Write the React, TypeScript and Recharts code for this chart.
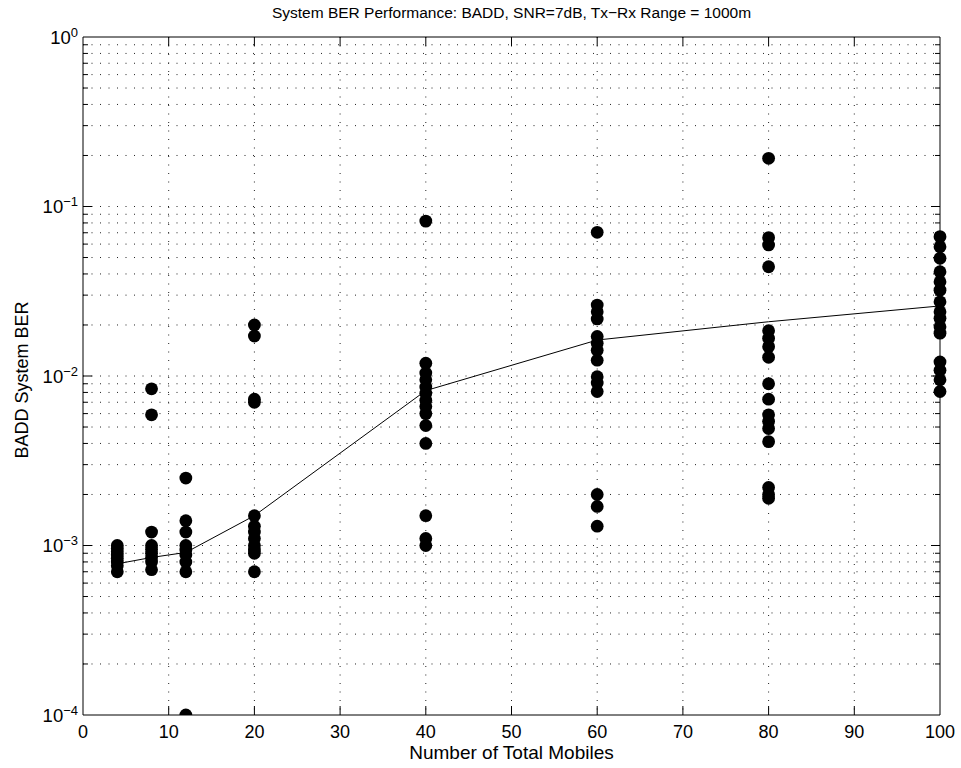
import React from "react";
import {
  ScatterChart,
  Scatter,
  XAxis,
  YAxis,
  CartesianGrid,
  ReferenceLine,
} from "recharts";

// BER samples per number of mobiles
const mobiles = [4, 8, 12, 20, 40, 60, 80, 100];

const ber4 = [0.001, 0.00096, 0.00092, 0.00088, 0.00084, 0.0008, 0.00076, 0.0007];
const ber8 = [0.0084, 0.0059, 0.0012, 0.001, 0.00095, 0.0009, 0.00085, 0.0008, 0.00072];
const ber12 = [0.0025, 0.0014, 0.0012, 0.001, 0.00094, 0.00088, 0.0008, 0.0007, 0.0001];
const ber20 = [0.02, 0.0172, 0.0073, 0.007, 0.0015, 0.0013, 0.0012, 0.0011, 0.001, 0.00094, 0.0009, 0.0007];
const ber40 = [0.082, 0.0119, 0.0104, 0.0095, 0.0086, 0.0079, 0.0072, 0.0066, 0.006, 0.0051, 0.004, 0.0015, 0.0011, 0.001];
const ber60 = [0.0704, 0.0262, 0.0239, 0.0217, 0.0171, 0.0156, 0.0142, 0.0124, 0.0099, 0.0091, 0.0081, 0.002, 0.0017, 0.0013];
const ber80 = [0.1925, 0.0655, 0.0593, 0.0441, 0.0185, 0.0167, 0.0149, 0.0129, 0.009, 0.0073, 0.0059, 0.0054, 0.0049, 0.0041, 0.0022, 0.002, 0.0019];
const ber100 = [0.0664, 0.0579, 0.0495, 0.0412, 0.036, 0.0321, 0.0274, 0.0239, 0.0219, 0.0195, 0.0179, 0.0121, 0.0108, 0.0095, 0.0081];

const meanBer = [0.00078, 0.00085, 0.00091, 0.0015, 0.0082, 0.0163, 0.0209, 0.0259];

const xTicks = [0, 10, 20, 30, 40, 50, 60, 70, 80, 90, 100];
const yTicks = [1e-4, 1e-3, 1e-2, 1e-1, 1];
const yMinor = [-4, -3, -2, -1].flatMap((d) =>
  [2, 3, 4, 5, 6, 7, 8, 9].map((m) => m * Math.pow(10, d))
);

const groups = [ber4, ber8, ber12, ber20, ber40, ber60, ber80, ber100];
const points = groups.flatMap((g, i) => g.map((v) => ({ x: mobiles[i], y: v })));
const meanLine = mobiles.map((m, i) => ({ x: m, y: meanBer[i] }));

const FONT = "'Liberation Sans', Arial, Helvetica, sans-serif";

const Dot = (props: any) => (
  <circle cx={props.cx} cy={props.cy} r={6.4} fill="#000" />
);
const NoDot = () => <g />;

const XTick = ({ x, y, payload }: any) => (
  <text x={x} y={y + 23} textAnchor="middle" fontSize={18} fill="#000" fontFamily={FONT}>
    {payload.value}
  </text>
);

const YTick = ({ x, y, payload }: any) => {
  const e = Math.round(Math.log10(payload.value));
  return (
    <text x={x} y={y} textAnchor="end" fill="#000" fontFamily={FONT}>
      <tspan dy={6.5} fontSize={18.5}>10</tspan>
      <tspan dy={-7} fontSize={13}>{e < 0 ? "\u2212" + -e : String(e)}</tspan>
    </text>
  );
};

// inward tick lengths in data units (9px major / 5px minor)
const XMAJ = 1.05;
const XMIN = 0.58;
const YUP = 1.13;

export default function App() {
  return (
    <div style={{ position: "absolute", left: 0, top: 0, width: 961, height: 768, background: "#fff" }}>
      <div
        style={{
          position: "absolute",
          left: 83,
          width: 857,
          top: 4,
          textAlign: "center",
          fontFamily: FONT,
          fontSize: 15.5,
          color: "#000",
          whiteSpace: "nowrap",
        }}
      >
        System BER Performance: BADD, SNR=7dB, Tx−Rx Range = 1000m
      </div>
      <div
        style={{
          position: "absolute",
          left: 22,
          top: 380,
          transform: "translate(-50%, -50%) rotate(-90deg)",
          fontFamily: FONT,
          fontSize: 18,
          color: "#000",
          whiteSpace: "nowrap",
        }}
      >
        BADD System BER
      </div>
      <div
        style={{
          position: "absolute",
          left: 83,
          width: 857,
          top: 743,
          textAlign: "center",
          fontFamily: FONT,
          fontSize: 19,
          lineHeight: "20px",
          color: "#000",
          whiteSpace: "nowrap",
        }}
      >
        Number of Total Mobiles
      </div>
      <ScatterChart
        width={961}
        height={768}
        margin={{ top: 37, right: 21, bottom: 0, left: 0 }}
      >
        <CartesianGrid
          horizontalValues={[...yMinor, 1e-3, 1e-2, 1e-1]}
          verticalValues={[10, 20, 30, 40, 50, 60, 70, 80, 90]}
          stroke="#222"
          strokeDasharray="1 7.5"
        />
        <XAxis
          dataKey="x"
          type="number"
          domain={[0, 100]}
          ticks={xTicks}
          tickLine={false}
          tickSize={0}
          tickMargin={0}
          axisLine={{ stroke: "#000", strokeWidth: 1 }}
          tick={<XTick />}
          height={53}
          interval={0}
        />
        <YAxis
          dataKey="y"
          type="number"
          scale="log"
          domain={[1e-4, 1]}
          ticks={yTicks}
          allowDataOverflow
          tickLine={false}
          tickSize={0}
          tickMargin={5}
          axisLine={{ stroke: "#000", strokeWidth: 1 }}
          tick={<YTick />}
          width={83}
          interval={0}
        />
        <ReferenceLine y={1} stroke="#000" strokeWidth={1} />
        <ReferenceLine x={100} stroke="#000" strokeWidth={1} />
        {xTicks.slice(1, -1).map((v) => (
          <ReferenceLine key={"xb" + v} segment={[{ x: v, y: 1e-4 }, { x: v, y: 1e-4 * YUP }]} stroke="#000" />
        ))}
        {xTicks.slice(1, -1).map((v) => (
          <ReferenceLine key={"xt" + v} segment={[{ x: v, y: 1 }, { x: v, y: 1 / YUP }]} stroke="#000" />
        ))}
        {yTicks.slice(1, -1).map((v) => (
          <ReferenceLine key={"yl" + v} segment={[{ x: 0, y: v }, { x: XMAJ, y: v }]} stroke="#000" />
        ))}
        {yTicks.slice(1, -1).map((v) => (
          <ReferenceLine key={"yr" + v} segment={[{ x: 100 - XMAJ, y: v }, { x: 100, y: v }]} stroke="#000" />
        ))}
        {yMinor.map((v) => (
          <ReferenceLine key={"ml" + v} segment={[{ x: 0, y: v }, { x: XMIN, y: v }]} stroke="#000" />
        ))}
        {yMinor.map((v) => (
          <ReferenceLine key={"mr" + v} segment={[{ x: 100 - XMIN, y: v }, { x: 100, y: v }]} stroke="#000" />
        ))}
        <Scatter
          data={meanLine}
          line={{ stroke: "#000", strokeWidth: 1 }}
          shape={<NoDot />}
          isAnimationActive={false}
        />
        <Scatter data={points} shape={<Dot />} isAnimationActive={false} />
      </ScatterChart>
    </div>
  );
}
